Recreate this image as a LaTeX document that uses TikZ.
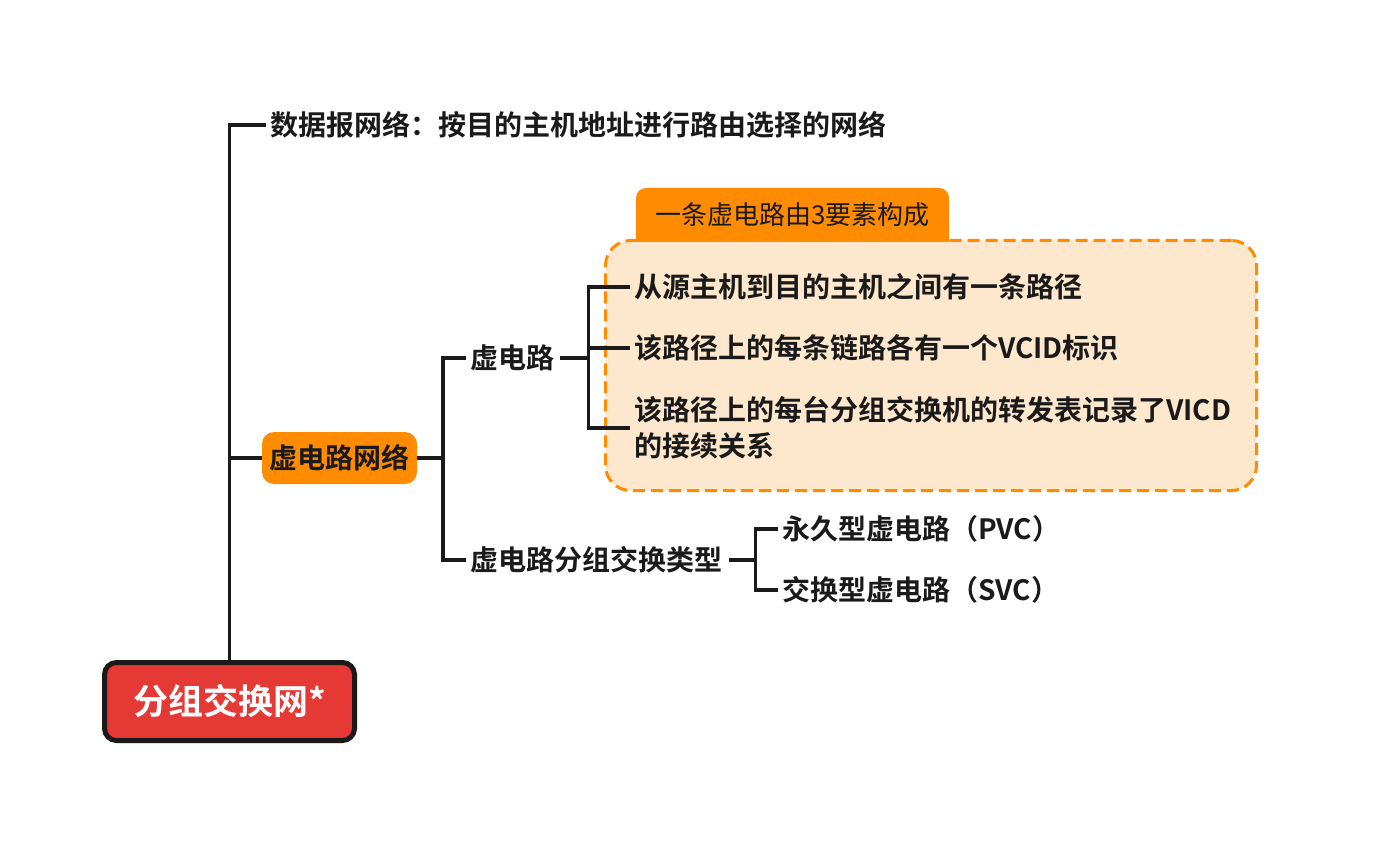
\documentclass[tikz,border=0pt]{standalone}
\usepackage{fontspec}
\setmainfont{Noto Sans CJK SC}[BoldFont={* Bold}]
\definecolor{linec}{HTML}{1A1A1A}
\definecolor{orangec}{HTML}{FF8B00}
\definecolor{lightc}{HTML}{FDE8CD}
\definecolor{redc}{HTML}{E53935}
\begin{document}
\begin{tikzpicture}[x=1pt,y=-1pt,
  conn/.style={line width=3.8pt, draw=linec},
  lbl/.style={anchor=west, inner xsep=4pt, inner ysep=0pt, font=\fontsize{28}{36}\selectfont\bfseries, text=linec, align=left},
  rootbox/.style={draw=linec, line width=5pt, fill=redc, rounded corners=12pt, minimum width=250pt, minimum height=78pt, text=white, font=\fontsize{35}{40}\selectfont\bfseries},
  orbox/.style={fill=orangec, rounded corners=12pt, minimum width=155pt, minimum height=52pt, inner sep=0pt, text=linec, font=\fontsize{28}{36}\selectfont\bfseries},
  frame/.style={draw=orangec, fill=lightc, dashed, dash pattern=on 12pt off 6pt, line width=3pt, rounded corners=25pt, minimum width=651pt, minimum height=250pt},
  tablbl/.style={inner sep=0pt, text=linec, font=\fontsize{26}{30}\selectfont}
]
\useasboundingbox (0,0) rectangle (1378,842);
% frame + tab
\node[frame] (frame) at (931,365.5) {};
\fill[orangec] (636,242) [rounded corners=10pt] -- (636,188) -- (949,188) [sharp corners] -- (949,242) -- cycle;
\node[tablbl] (tab) at (792.5,215) {一条虚电路由3要素构成};
% nodes
\node[rootbox] (root) at (229.5,701.5) {分组交换网*};
\node[lbl] (dg) at (266,125) {数据报网络：按目的主机地址进行路由选择的网络};
\node[orbox] (vnet) at (339.5,458) {虚电路网络};
\node[lbl] (vc) at (466,358) {虚电路};
\node[lbl] (vct) at (466,560) {虚电路分组交换类型};
\node[lbl] (i1) at (630,287) {从源主机到目的主机之间有一条路径};
\node[lbl] (i2) at (630,348) {该路径上的每条链路各有一个VCID标识};
\node[lbl] (i3) at (630,428) {该路径上的每台分组交换机的转发表记录了VICD\\的接续关系};
\node[lbl] (pvc) at (778,529) {永久型虚电路（PVC）};
\node[lbl] (svc) at (778,590) {交换型虚电路（SVC）};
% connectors
\draw[conn] (root.north) |- (dg.west);
\draw[conn] (root.north) |- (vnet.west);
\draw[conn] (vnet.east) -- ++(26,0) |- (vc.west);
\draw[conn] (vnet.east) -- ++(26,0) |- (vct.west);
\draw[conn] (vc.east) ++(2,0) -- ++(28,0) |- (i1.west);
\draw[conn] (vc.east) ++(2,0) -- ++(28,0) |- (i2.west);
\draw[conn] (vc.east) ++(2,0) -- ++(28,0) |- (i3.west);
\draw[conn] (vct.east) ++(3,0) -- ++(26,0) |- (pvc.west);
\draw[conn] (vct.east) ++(3,0) -- ++(26,0) |- (svc.west);
\end{tikzpicture}
\end{document}
